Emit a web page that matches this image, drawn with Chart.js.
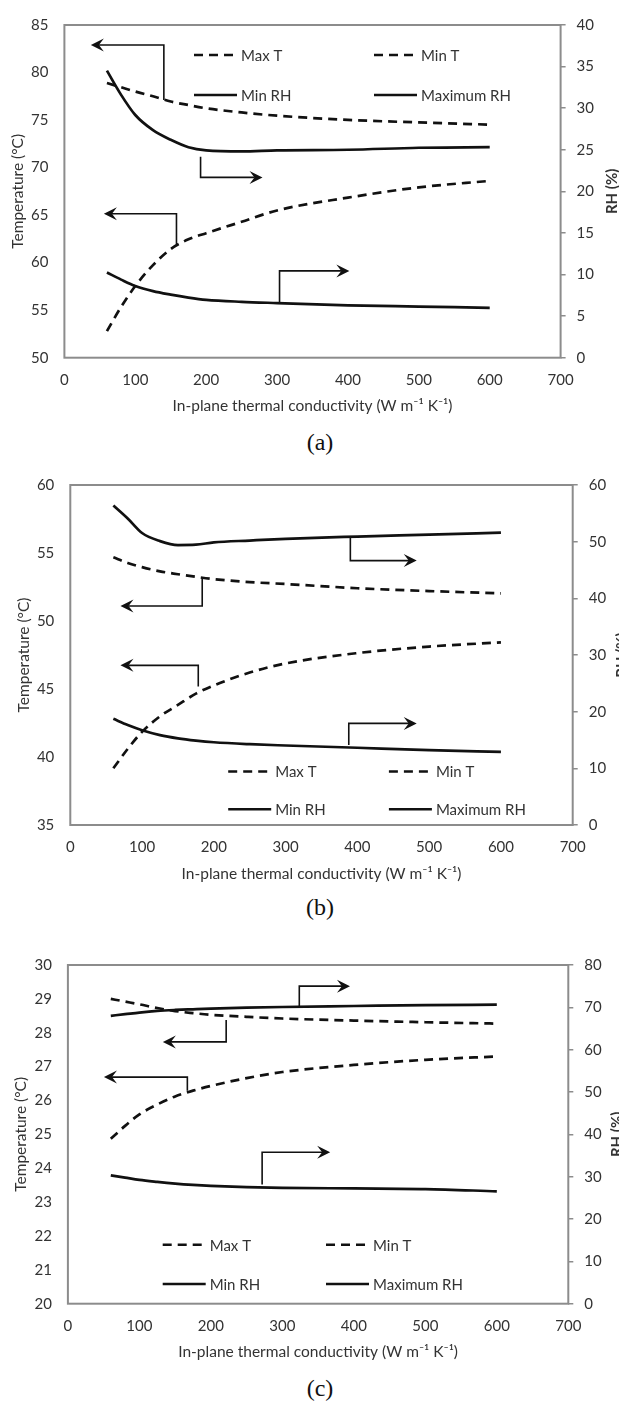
<!DOCTYPE html>
<html>
<head>
<meta charset="utf-8">
<script src="https://cdn.jsdelivr.net/npm/chart.js@4.4.1/dist/chart.umd.min.js"></script>
<style>
  body { margin: 0; background: #fff; width: 619px; height: 1403px; position: relative; overflow: hidden; }
  canvas { position: absolute; left: 0; }
  .cap { position: absolute; left: 0; width: 640px; text-align: center; font-family: "Liberation Serif", "Times New Roman", serif; font-size: 24px; line-height: 28px; color: #111; }
</style>
</head>
<body>
<canvas id="panelA" width="619" height="425" style="top:0px"></canvas>
<div class="cap" style="top:428px">(a)</div>
<canvas id="panelB" width="619" height="425" style="top:460px"></canvas>
<div class="cap" style="top:893px">(b)</div>
<canvas id="panelC" width="619" height="425" style="top:940px"></canvas>
<div class="cap" style="top:1374px">(c)</div>

<script>
// ---- data ----
const conductivity = [60, 80, 100, 125, 150, 175, 200, 250, 300, 400, 500, 600];
const seriesNames = ["Max T", "Min T", "Min RH", "Maximum RH"];

// panel (a)
const maxTA = [78.9, 78.45, 78.0, 77.5, 76.95, 76.58, 76.24, 75.8, 75.46, 75.02, 74.75, 74.52];
const minTA = [52.8, 55.35, 57.54, 59.74, 61.43, 62.45, 63.1, 64.3, 65.49, 66.84, 67.92, 68.6];
const minRHA = [10.24, 9.39, 8.62, 8.0, 7.58, 7.23, 6.96, 6.72, 6.57, 6.3, 6.15, 6.0];
const maxRHA = [34.51, 31.6, 29.18, 27.36, 26.2, 25.31, 24.93, 24.8, 24.93, 25.0, 25.24, 25.31];

// panel (b)
const maxTB = [54.68, 54.27, 53.96, 53.65, 53.44, 53.25, 53.08, 52.86, 52.72, 52.41, 52.2, 52.03];
const minTB = [39.17, 40.6, 41.85, 42.99, 43.83, 44.66, 45.26, 46.21, 46.88, 47.64, 48.12, 48.43];
const minRHB = [18.73, 17.64, 16.73, 15.87, 15.3, 14.9, 14.6, 14.26, 14.03, 13.63, 13.23, 12.89];
const maxRHB = [56.4, 54.1, 51.53, 50.1, 49.4, 49.47, 49.87, 50.2, 50.5, 50.9, 51.24, 51.6];

// panel (c)
const maxTC = [29.0, 28.92, 28.84, 28.73, 28.64, 28.58, 28.53, 28.47, 28.42, 28.36, 28.31, 28.27];
const minTC = [24.87, 25.25, 25.59, 25.88, 26.12, 26.29, 26.43, 26.66, 26.84, 27.05, 27.2, 27.3];
const minRHC = [30.31, 29.77, 29.23, 28.77, 28.38, 28.08, 27.85, 27.54, 27.38, 27.23, 27.08, 26.54];
const maxRHC = [68.0, 68.38, 68.77, 69.15, 69.38, 69.54, 69.69, 69.92, 70.08, 70.31, 70.54, 70.62];

// axis ranges: [min, max, step]
const xRange = [0, 700, 100];
const tempRangeA = [50, 85, 5], rhRangeA = [0, 40, 5];
const tempRangeB = [35, 60, 5], rhRangeB = [0, 60, 10];
const tempRangeC = [20, 30, 1], rhRangeC = [0, 80, 10];

// pointer arrows: [x of stem, T at curve, T at elbow, x of tip] (left-axis units)
const arrowsA = [[140.3, 77.1, 82.9, 37.3], [192.1, 71.13, 68.97, 279.5], [158.1, 61.94, 65.15, 55.7], [303.5, 55.68, 59.13, 402]];
const arrowsB = [[390.2, 56.18, 54.44, 482.7], [183.8, 53.2, 51.1, 69.9], [178.3, 45.19, 46.74, 69.9], [388, 40.89, 42.47, 482.7]];
const arrowsC = [[323.7, 28.76, 29.375, 394.6], [221.4, 28.375, 27.73, 132.8], [167.1, 26.29, 26.69, 50.4], [271.7, 23.52, 24.47, 366.9]];

// ---- styling ----
const TEXT = "#333333";
const FRAME = "#8c8c8c";
const FONT = "Lato, 'Open Sans', sans-serif";
const X_AXIS_H = 58;
const CANVAS_H = 425;

const extrasPlugin = {
  id: "extras",
  beforeDatasetsDraw(chart, args, opts) {
    const { ctx, chartArea: a } = chart;
    ctx.save();
    ctx.strokeStyle = FRAME;
    ctx.lineWidth = 2;
    ctx.strokeRect(a.left, a.top, a.right - a.left, a.bottom - a.top);
    ctx.restore();
  },
  afterDraw(chart, args, opts) {
    const { ctx, chartArea: a, scales } = chart;

    // L-shaped arrows telling which axis a curve belongs to
    ctx.save();
    ctx.strokeStyle = "#111";
    ctx.fillStyle = "#111";
    ctx.lineWidth = 1.6;
    opts.arrows.forEach(([x, y0, y1, xEnd]) => {
      const px = scales.x.getPixelForValue(x);
      const py0 = scales.y.getPixelForValue(y0);
      const py1 = scales.y.getPixelForValue(y1);
      const pe = scales.x.getPixelForValue(xEnd);
      const dir = pe > px ? 1 : -1;
      const L = 13, W = 6.5;
      ctx.beginPath();
      ctx.moveTo(px, py0);
      ctx.lineTo(px, py1);
      ctx.lineTo(pe - dir * L * 0.6, py1);
      ctx.stroke();
      ctx.beginPath();
      ctx.moveTo(pe, py1);
      ctx.lineTo(pe - dir * L, py1 - W);
      ctx.lineTo(pe - dir * L * 0.62, py1);
      ctx.lineTo(pe - dir * L, py1 + W);
      ctx.closePath();
      ctx.fill();
    });
    ctx.restore();

    // 2x2 legend inside the plot
    ctx.save();
    ctx.font = "15px " + FONT;
    ctx.textBaseline = "middle";
    ctx.fillStyle = TEXT;
    chart.data.datasets.forEach((ds, i) => {
      const x0 = a.left + opts.legend.cols[i % 2];
      const y = a.top + opts.legend.rows[Math.floor(i / 2)];
      ctx.save();
      ctx.strokeStyle = ds.borderColor;
      ctx.lineWidth = 2.5;
      ctx.setLineDash(ds.borderDash || []);
      ctx.beginPath();
      ctx.moveTo(x0, y);
      ctx.lineTo(x0 + 43, y);
      ctx.stroke();
      ctx.restore();
      ctx.fillText(ds.label, x0 + 47, y + 1);
    });
    ctx.restore();

    // secondary axis title, rotated like the primary one
    ctx.save();
    ctx.translate(opts.rhTitleX, (a.top + a.bottom) / 2);
    ctx.rotate(-Math.PI / 2);
    ctx.font = "bold 15px " + FONT;
    ctx.fillStyle = TEXT;
    ctx.textAlign = "center";
    ctx.textBaseline = "middle";
    ctx.fillText("RH (%)", 0, 0);
    ctx.restore();
  },
};

function series(values, label, axis, dashed) {
  return {
    label,
    data: conductivity.map((x, i) => ({ x, y: values[i] })),
    yAxisID: axis,
    borderColor: "#111",
    borderWidth: 2.7,
    borderDash: dashed ? [9, 6] : [],
    pointRadius: 0,
    cubicInterpolationMode: "monotone",
    fill: false,
  };
}

function buildPanel(id, p) {
  const tickFont = { family: FONT, size: 15 };
  const titleFont = { family: FONT, size: 15.5 };
  new Chart(document.getElementById(id), {
    type: "line",
    data: {
      datasets: [
        series(p.maxT, seriesNames[0], "y", true),
        series(p.minT, seriesNames[1], "y", true),
        series(p.minRH, seriesNames[2], "y1", false),
        series(p.maxRH, seriesNames[3], "y1", false),
      ],
    },
    options: {
      responsive: false,
      animation: false,
      layout: {
        padding: { top: p.top, bottom: CANVAS_H - p.bottom - X_AXIS_H, left: 0, right: 0 },
      },
      scales: {
        x: {
          type: "linear",
          min: xRange[0],
          max: xRange[1],
          afterFit: (s) => { s.height = X_AXIS_H; },
          ticks: { stepSize: xRange[2], padding: 13.5, color: TEXT, font: tickFont },
          grid: { display: false, drawTicks: false },
          border: { display: false },
          title: {
            display: true,
            text: "In-plane thermal conductivity (W m⁻¹ K⁻¹)",
            color: TEXT,
            font: titleFont,
            padding: 0,
          },
        },
        y: {
          position: "left",
          min: p.temp[0],
          max: p.temp[1],
          afterFit: (s) => { s.width = p.left; },
          ticks: { stepSize: p.temp[2], padding: 16, color: TEXT, font: tickFont },
          grid: { display: false, drawTicks: false },
          border: { display: false },
          title: {
            display: true,
            text: "Temperature (°C)",
            color: TEXT,
            font: titleFont,
            padding: { top: p.tempTitleX - 9.3, bottom: 0 },
          },
        },
        y1: {
          position: "right",
          min: p.rh[0],
          max: p.rh[1],
          afterFit: (s) => { s.width = 619 - p.right; },
          ticks: { stepSize: p.rh[2], padding: 11, color: TEXT, font: tickFont },
          grid: { drawOnChartArea: false, drawTicks: true, tickLength: 5, color: FRAME, lineWidth: 1.5 },
          border: { display: false },
        },
      },
      plugins: {
        legend: { display: false },
        tooltip: { enabled: false },
        extras: { arrows: p.arrows, legend: p.legend, rhTitleX: p.rhTitleX },
      },
    },
    plugins: [extrasPlugin],
  });
}

buildPanel("panelA", {
  maxT: maxTA, minT: minTA, minRH: minRHA, maxRH: maxRHA,
  temp: tempRangeA, rh: rhRangeA, arrows: arrowsA,
  top: 12.7, bottom: 357.7, left: 64.4, right: 560.6,
  tempTitleX: 17.5, rhTitleX: 612,
  legend: { cols: [129.6, 309.6], rows: [30, 70] },
});

buildPanel("panelB", {
  maxT: maxTB, minT: minTB, minRH: minRHB, maxRH: maxRHB,
  temp: tempRangeB, rh: rhRangeB, arrows: arrowsB,
  top: 15.7, bottom: 365, left: 70.3, right: 572.7,
  tempTitleX: 23.5, rhTitleX: 622,
  legend: { cols: [157.9, 318.6], rows: [286.6, 324.3] },
});

buildPanel("panelC", {
  maxT: maxTC, minT: minTC, minRH: minRHC, maxRH: maxRHC,
  temp: tempRangeC, rh: rhRangeC, arrows: arrowsC,
  top: 17, bottom: 363.7, left: 67.9, right: 568.3,
  tempTitleX: 21.3, rhTitleX: 617,
  legend: { cols: [94.8, 258.1], rows: [279.7, 319] },
});
</script>
</body>
</html>
